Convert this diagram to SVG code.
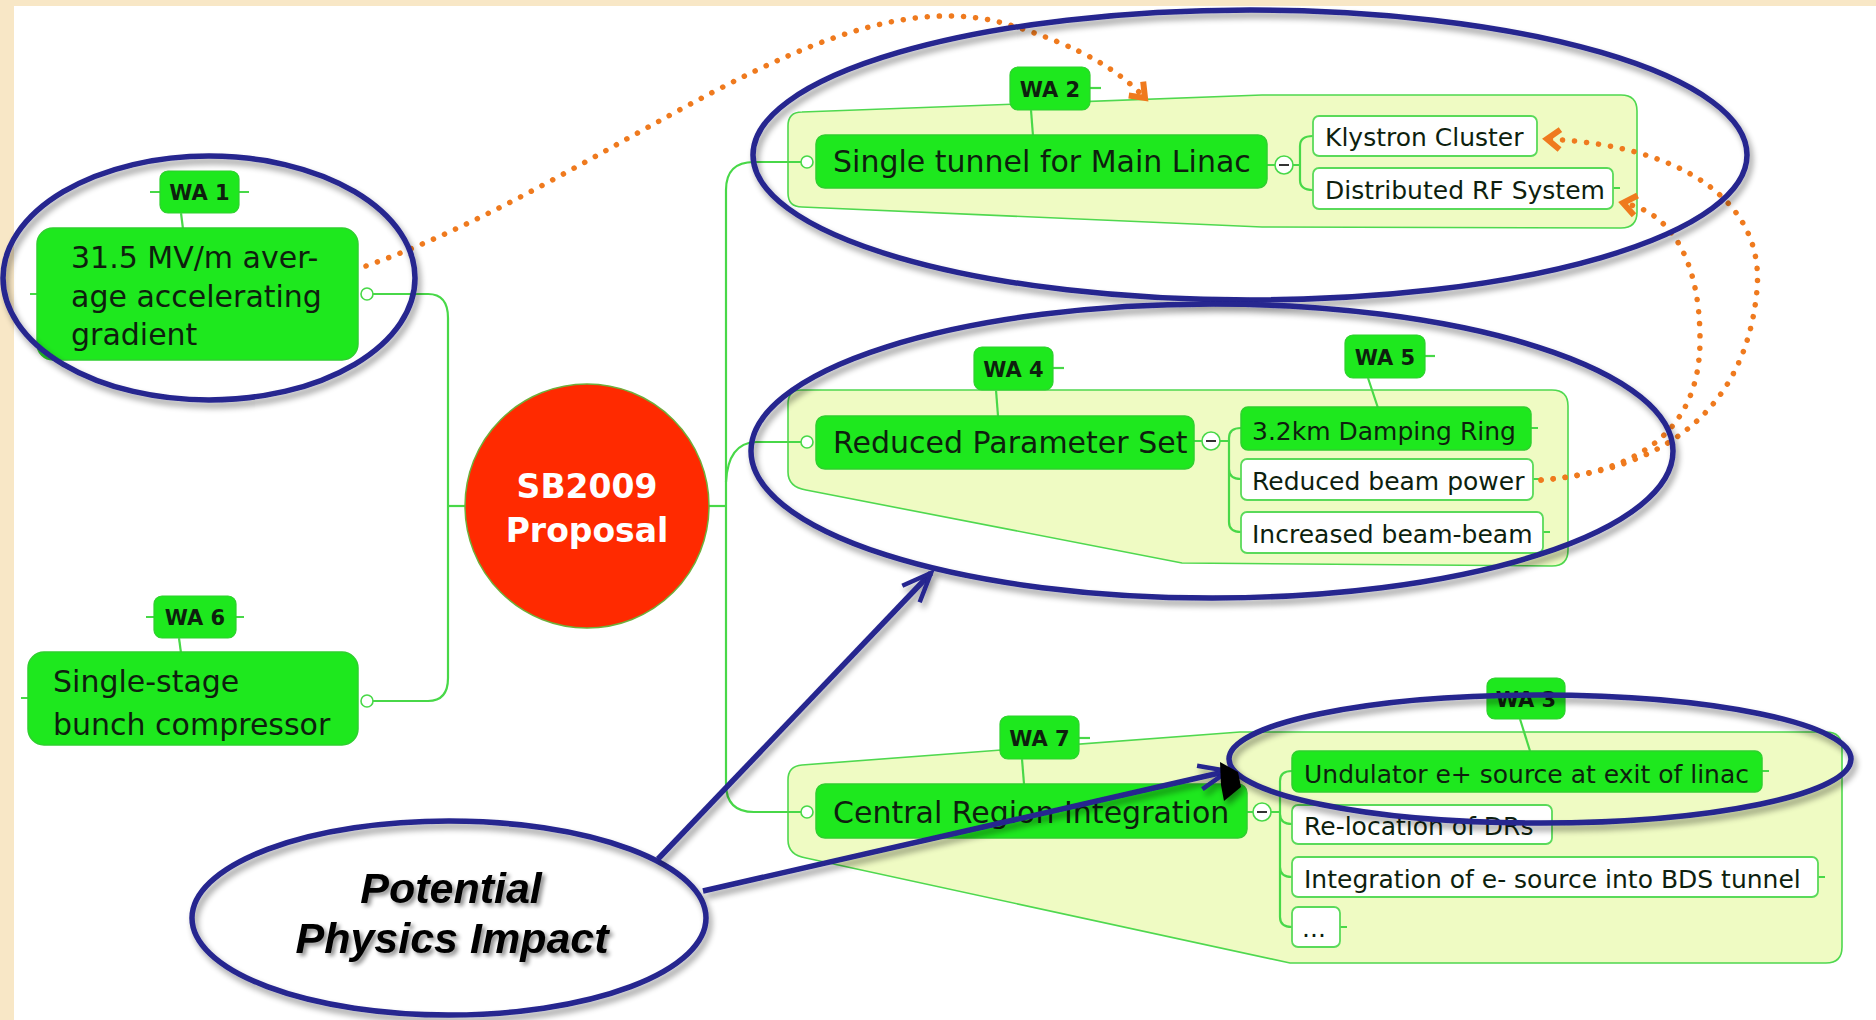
<svg xmlns="http://www.w3.org/2000/svg" width="1876" height="1020" viewBox="0 0 1876 1020">
<defs>
<style>
.panel{fill:#effbc3;stroke:#4fd84f;stroke-width:1.6}
.ln{fill:none;stroke:#48d848;stroke-width:2.2}
.node{fill:#1ee81e;stroke:#2fcf2f;stroke-width:1.5}
.child{fill:#ffffff;stroke:#5ada5a;stroke-width:1.8}
.wa{fill:#1ee81e;stroke:#2fcf2f;stroke-width:1.2}
.t{font-family:"DejaVu Sans","Verdana",sans-serif;fill:#0e1f0e}
.t30{font-size:30px}
.t25{font-size:25px}
.wat{font-family:"DejaVu Sans",sans-serif;font-weight:bold;font-size:21px;fill:#0e1f0e;text-anchor:middle}
.knob{fill:#ffffff;stroke:#48d848;stroke-width:1.6}
.dot{fill:none;stroke:#ef7a1e;stroke-width:5.5;stroke-linecap:round;stroke-dasharray:0.1 12}
.blue{fill:none;stroke:#25258f;stroke-width:5.5}
</style>
<filter id="sh" x="-10%" y="-15%" width="125%" height="140%">
<feGaussianBlur in="SourceAlpha" stdDeviation="3"/>
<feOffset dx="3" dy="5"/>
<feComponentTransfer result="s"><feFuncA type="linear" slope="0.4"/></feComponentTransfer>
<feMerge><feMergeNode in="s"/><feMergeNode in="SourceGraphic"/></feMerge>
</filter>
<filter id="tsh" x="-10%" y="-20%" width="125%" height="150%">
<feGaussianBlur in="SourceAlpha" stdDeviation="2"/>
<feOffset dx="3" dy="3"/>
<feComponentTransfer result="s"><feFuncA type="linear" slope="0.45"/></feComponentTransfer>
<feMerge><feMergeNode in="s"/><feMergeNode in="SourceGraphic"/></feMerge>
</filter>
<marker id="oa" markerUnits="userSpaceOnUse" markerWidth="24" markerHeight="28" viewBox="-19 -14 24 28" refX="0" refY="0" orient="auto">
<path d="M-13,-10 L0,0 L-13,10" fill="none" stroke="#ef7a1e" stroke-width="6" stroke-linejoin="miter" stroke-dasharray="none"/>
</marker>
<marker id="ba" markerUnits="userSpaceOnUse" markerWidth="40" markerHeight="36" viewBox="-34 -18 40 36" refX="0" refY="0" orient="auto">
<path d="M-29,-12 L0,0 L-29,12" fill="none" stroke="#25258f" stroke-width="4.5" stroke-dasharray="none"/>
</marker>
</defs>

<rect x="0" y="0" width="1876" height="1020" fill="#f8e7c6"/>
<rect x="14" y="6" width="1862" height="1014" fill="#ffffff"/>

<g id="panels">
<path class="panel" d="M802 112 L1262 95 L1621 95 Q1637 95 1637 111 L1637 212 Q1637 228 1621 228 L1262 227 L802 207 Q788 207 788 193 L788 126 Q788 112 802 112 Z"/>
<path class="panel" d="M801 390 L1552 390 Q1568 390 1568 406 L1568 550 Q1568 566 1552 566 L1182 563 L806 490 Q788 487 788 472 L788 404 Q788 390 801 390 Z"/>
<path class="panel" d="M802 765 L1240 732 L1826 732 Q1842 732 1842 748 L1842 947 Q1842 963 1826 963 L1290 963 L806 858 Q788 855 788 840 L788 780 Q788 766 802 765 Z"/>
</g>

<g id="connectors">
<path class="ln" d="M373 294 H428 Q448 294 448 318 V678 Q448 701 428 701 H373"/>
<path class="ln" d="M448 506 H465"/>
<path class="ln" d="M708 506 H726"/>
<path class="ln" d="M726 506 V190 Q726 162 754 162 H801"/>
<path class="ln" d="M726 506 V784 Q726 812 754 812 H801"/>
<path class="ln" d="M726 482 Q728 443 756 442 H801"/>
<path class="ln" d="M1267 165 H1275 M1293 165 H1300 M1300 165 V146 Q1300 136 1313 136 M1300 165 V180 Q1300 190 1313 190"/>
<path class="ln" d="M1194 441 H1202 M1220 441 H1229 M1229 441 V438 Q1229 428 1241 428 M1229 441 V469 Q1229 479 1241 479 M1229 469 V522 Q1229 532 1241 532"/>
<path class="ln" d="M1247 812 H1253 M1271 812 H1280 M1280 812 V781 Q1280 771 1292 771 M1280 812 V814 Q1280 824 1292 824 M1280 814 V867 Q1280 877 1292 877 M1280 867 V917 Q1280 927 1292 927"/>
<path class="ln" d="M1613 188 H1620 M1531 428 H1538 M1533 479 H1540 M1543 532 H1550 M1762 771 H1769 M1818 877 H1825 M1340 927 H1347 M1552 824 H1559"/>
<path class="ln" d="M29 698 H21 M37 294 H30"/>
</g>

<g id="n-wa1">
<line class="ln" x1="150" y1="192" x2="249" y2="192"/>
<rect class="wa" x="160" y="171" width="79" height="42" rx="8"/>
<text class="wat" x="199.5" y="200">WA 1</text>
<line class="ln" x1="181" y1="213" x2="183" y2="229"/>
</g>
<g id="n-gradient">
<rect class="node" x="37" y="228" width="321" height="132" rx="16"/>
<text class="t t30" x="71" y="268">31.5 MV/m aver-</text>
<text class="t t30" x="71" y="307">age accelerating</text>
<text class="t t30" x="71" y="345">gradient</text>
<circle class="knob" cx="367" cy="294" r="6"/>
</g>
<g id="n-wa6">
<line class="ln" x1="146" y1="617" x2="244" y2="617"/>
<rect class="wa" x="154" y="596" width="82" height="42" rx="8"/>
<text class="wat" x="195" y="625">WA 6</text>
<line class="ln" x1="179" y1="638" x2="181" y2="653"/>
</g>
<g id="n-bunch">
<rect class="node" x="28" y="652" width="330" height="93" rx="16"/>
<text class="t t30" x="53" y="692">Single-stage</text>
<text class="t t30" x="53" y="735">bunch compressor</text>
<circle class="knob" cx="367" cy="701" r="6"/>
</g>
<g id="n-center">
<circle cx="587" cy="506" r="122" fill="#ff2a00" stroke="#6fae3a" stroke-width="1.5"/>
<text x="587" y="498" font-family="DejaVu Sans,sans-serif" font-weight="bold" font-size="33" fill="#ffffff" text-anchor="middle">SB2009</text>
<text x="587" y="542" font-family="DejaVu Sans,sans-serif" font-weight="bold" font-size="33" fill="#ffffff" text-anchor="middle">Proposal</text>
</g>

<g id="n-wa2">
<line class="ln" x1="1090" y1="88" x2="1101" y2="88"/>
<rect class="wa" x="1010" y="67" width="80" height="43" rx="8"/>
<text class="wat" x="1050" y="97">WA 2</text>
<line class="ln" x1="1031" y1="110" x2="1033" y2="136"/>
</g>
<g id="n-tunnel">
<rect class="node" x="816" y="135" width="451" height="53" rx="9"/>
<text class="t t30" x="833" y="172">Single tunnel for Main Linac</text>
<circle class="knob" cx="807" cy="162" r="6"/>
<circle class="knob" cx="1284" cy="165" r="9"/>
<line x1="1279" y1="165" x2="1289" y2="165" stroke="#333" stroke-width="2"/>
</g>
<g id="n-klystron">
<rect class="child" x="1313" y="116" width="224" height="40" rx="6"/>
<text class="t t25" x="1325" y="146">Klystron Cluster</text>
</g>
<g id="n-drf">
<rect class="child" x="1313" y="168" width="300" height="41" rx="6"/>
<text class="t t25" x="1325" y="199">Distributed RF System</text>
</g>

<g id="n-wa4">
<line class="ln" x1="1053" y1="368" x2="1064" y2="368"/>
<rect class="wa" x="974" y="347" width="79" height="43" rx="8"/>
<text class="wat" x="1013.5" y="377">WA 4</text>
<line class="ln" x1="996" y1="390" x2="998" y2="416"/>
</g>
<g id="n-reduced">
<rect class="node" x="816" y="416" width="378" height="53" rx="9"/>
<text class="t t30" x="833" y="453">Reduced Parameter Set</text>
<circle class="knob" cx="807" cy="442" r="6"/>
<circle class="knob" cx="1211" cy="441" r="9"/>
<line x1="1206" y1="441" x2="1216" y2="441" stroke="#333" stroke-width="2"/>
</g>
<g id="n-wa5">
<line class="ln" x1="1425" y1="356" x2="1435" y2="356"/>
<rect class="wa" x="1345" y="335" width="80" height="43" rx="8"/>
<text class="wat" x="1385" y="365">WA 5</text>
<line class="ln" x1="1368" y1="378" x2="1378" y2="408"/>
</g>
<g id="n-dr">
<rect class="node" x="1241" y="407" width="290" height="43" rx="7"/>
<text class="t t25" x="1252" y="440">3.2km Damping Ring</text>
</g>
<g id="n-power">
<rect class="child" x="1241" y="459" width="292" height="41" rx="6"/>
<text class="t t25" x="1252" y="490">Reduced beam power</text>
</g>
<g id="n-beambeam">
<rect class="child" x="1241" y="512" width="302" height="41" rx="6"/>
<text class="t t25" x="1252" y="543">Increased beam-beam</text>
</g>

<g id="n-wa7">
<line class="ln" x1="1079" y1="738" x2="1090" y2="738"/>
<rect class="wa" x="1000" y="716" width="79" height="43" rx="8"/>
<text class="wat" x="1039.5" y="746">WA 7</text>
<line class="ln" x1="1022" y1="759" x2="1024" y2="784"/>
</g>
<g id="n-central">
<rect class="node" x="816" y="784" width="431" height="54" rx="9"/>
<text class="t t30" x="833" y="823">Central Region Integration</text>
<circle class="knob" cx="807" cy="812" r="6"/>
<circle class="knob" cx="1262" cy="812" r="9"/>
<line x1="1257" y1="812" x2="1267" y2="812" stroke="#333" stroke-width="2"/>
</g>
<g id="n-wa3">
<rect class="wa" x="1487" y="678" width="78" height="41" rx="8"/>
<text class="wat" x="1526" y="707">WA 3</text>
<line class="ln" x1="1520" y1="719" x2="1530" y2="751"/>
</g>
<g id="n-undulator">
<rect class="node" x="1292" y="751" width="470" height="41" rx="7"/>
<text class="t t25" x="1304" y="783">Undulator e+ source at exit of linac</text>
</g>
<g id="n-reloc">
<rect class="child" x="1292" y="805" width="260" height="39" rx="6"/>
<text class="t t25" x="1304" y="835">Re-location of DRs</text>
</g>
<g id="n-bds">
<rect class="child" x="1292" y="857" width="526" height="40" rx="6"/>
<text class="t t25" x="1304" y="888">Integration of e- source into BDS tunnel</text>
</g>
<g id="n-more">
<rect class="child" x="1292" y="907" width="48" height="40" rx="6"/>
<text class="t t25" x="1302" y="937">...</text>
</g>

<g id="links">
<path class="dot" d="M366 266 C610 180 830 -30 1010 25 C1085 48 1120 72 1145 98" marker-end="url(#oa)"/>
<path class="dot" d="M1541 480 C1650 472 1745 420 1757 290 C1765 200 1680 145 1547 139" marker-end="url(#oa)"/>
<path class="dot" d="M1541 480 C1640 472 1700 430 1700 340 C1700 262 1672 212 1623 203" marker-end="url(#oa)"/>
</g>

<g id="highlights" filter="url(#sh)">
<ellipse class="blue" cx="209" cy="278" rx="206" ry="122"/>
<ellipse class="blue" cx="1250" cy="155" rx="497" ry="145"/>
<ellipse class="blue" cx="1212" cy="451" rx="461" ry="147"/>
<ellipse class="blue" cx="1540" cy="759" rx="311" ry="64"/>
</g>

<g id="n-impact">
<ellipse class="blue" cx="449" cy="918" rx="257" ry="97" fill="#ffffff" filter="url(#sh)"/>
<g filter="url(#tsh)" font-family="Liberation Sans,Arial,sans-serif" font-weight="bold" font-style="italic" font-size="43" fill="#000000" text-anchor="middle">
<text x="451" y="903">Potential</text>
<text x="452" y="953">Physics Impact</text>
</g>
</g>

<g id="arrows" filter="url(#sh)">
<path class="blue" d="M658 859 L931 573" marker-end="url(#ba)"/>
<path class="blue" d="M703 891 L1228 771" marker-end="url(#ba)"/>
<path d="M1220 762 L1238 772 L1241 787 L1224 801 L1221 785 Z" fill="#000000"/>
</g>
</svg>
